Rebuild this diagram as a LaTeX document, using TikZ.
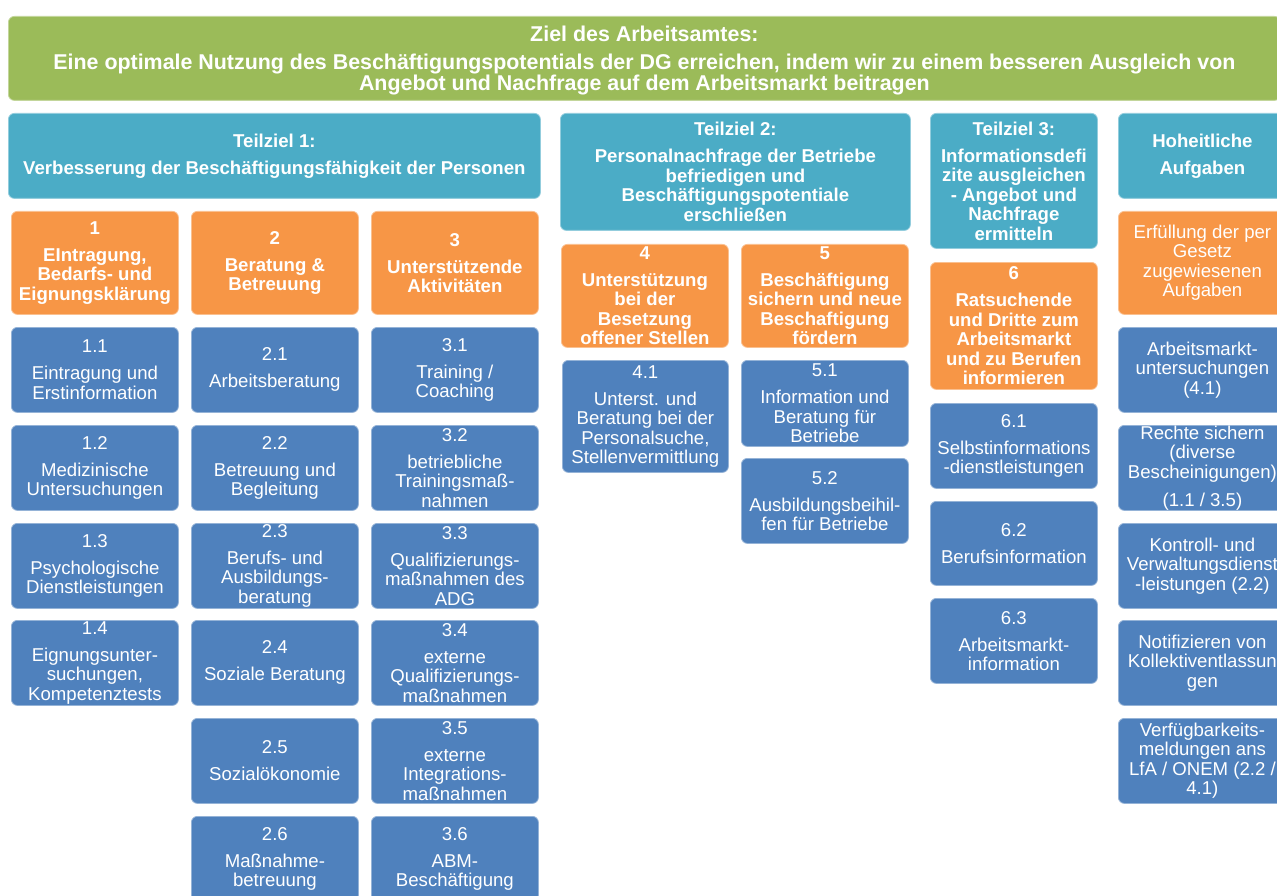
\documentclass[tikz,border=0pt]{standalone}
\usepackage{fontspec}
\setmainfont{Liberation Sans}
\definecolor{cgreen}{HTML}{9BBB59}
\definecolor{cteal}{HTML}{4BACC6}
\definecolor{corange}{HTML}{F79646}
\definecolor{cblue}{HTML}{4F81BD}
\tikzset{
  box/.style={fill=#1, draw=#1!60!white, line width=0.8pt, rounded corners=6pt,
    inner sep=0pt, anchor=north west},
  txt/.style={align=center, text=white, inner sep=0pt,
    font=\fontsize{18.6}{19.5}\selectfont},
  btxt/.style={txt, font=\fontsize{18.6}{19.5}\selectfont\bfseries},
  ttxt/.style={txt, font=\fontsize{21.4}{20.5}\selectfont\bfseries, yshift=-2pt},
}
\newcommand\bx[8]{%
  \node[box=#2, minimum width=#5pt, minimum height=#6pt] (#1) at (#3,#4) {};
  \node[#7] (#1-t) at (#1.center) {#8};}
\begin{document}
\begin{tikzpicture}[x=1pt,y=-1pt]
\useasboundingbox (0,0) rectangle (1277,896);
\fill[white] (0,0) rectangle (1277,896);
\clip (0,0) rectangle (1277,896);
% title
\bx{ziel}{cgreen}{8}{16}{1272}{84}{ttxt}{Ziel des Arbeitsamtes:\\[7.5pt]Eine optimale Nutzung des Besch\"aftigungspotentials der DG erreichen, indem wir zu einem besseren Ausgleich von\\Angebot und Nachfrage auf dem Arbeitsmarkt beitragen}
% Teilziele
\bx{t1}{cteal}{8}{113}{532}{85}{btxt}{Teilziel 1:\\[7.5pt]Verbesserung der Besch\"aftigungsf\"ahigkeit der Personen}
\bx{t2}{cteal}{560}{113}{350}{117}{btxt}{Teilziel 2:\\[7.5pt]Personalnachfrage der Betriebe\\befriedigen und\\Besch\"aftigungspotentiale\\erschlie\ss en}
\bx{t3}{cteal}{930}{113}{167}{135}{btxt}{Teilziel 3:\\[7.5pt]Informationsdefi\\zite ausgleichen\\- Angebot und\\Nachfrage\\ermitteln}
\bx{ho}{cteal}{1118}{113}{168}{85}{btxt}{Hoheitliche\\[7.5pt]Aufgaben}
% orange
\bx{o1}{corange}{11}{211}{167}{103}{btxt}{1\\[7.5pt]EIntragung,\\Bedarfs- und\\Eignungskl\"arung}
\bx{o2}{corange}{191}{211}{167}{103}{btxt}{2\\[7.5pt]Beratung \&\\Betreuung}
\bx{o3}{corange}{371}{211}{167}{103}{btxt}{3\\[7.5pt]Unterst\"utzende\\Aktivit\"aten}
\bx{o4}{corange}{561}{244}{167}{103}{btxt}{4\\[7.5pt]Unterst\"utzung\\bei der\\Besetzung\\offener Stellen}
\bx{o5}{corange}{741}{244}{167}{103}{btxt}{5\\[7.5pt]Besch\"aftigung\\sichern und neue\\Beschaftigung\\f\"ordern}
\bx{o6}{corange}{930}{262}{167}{127}{btxt}{6\\[7.5pt]Ratsuchende\\und Dritte zum\\Arbeitsmarkt\\und zu Berufen\\informieren}
\bx{o7}{corange}{1118}{211}{168}{103}{txt}{Erf\"ullung der per\\Gesetz\\zugewiesenen\\Aufgaben}
% column 1
\bx{b11}{cblue}{11}{327}{167}{85}{txt}{1.1\\[7.5pt]Eintragung und\\Erstinformation}
\bx{b12}{cblue}{11}{425}{167}{85}{txt}{1.2\\[7.5pt]Medizinische\\Untersuchungen}
\bx{b13}{cblue}{11}{523}{167}{85}{txt}{1.3\\[7.5pt]Psychologische\\Dienstleistungen}
\bx{b14}{cblue}{11}{620}{167}{85}{txt}{1.4\\[7.5pt]Eignungsunter-\\suchungen,\\Kompetenztests}
% column 2
\bx{b21}{cblue}{191}{327}{167}{85}{txt}{2.1\\[7.5pt]Arbeitsberatung}
\bx{b22}{cblue}{191}{425}{167}{85}{txt}{2.2\\[7.5pt]Betreuung und\\Begleitung}
\bx{b23}{cblue}{191}{523}{167}{85}{txt}{2.3\\[7.5pt]Berufs- und\\Ausbildungs-\\beratung}
\bx{b24}{cblue}{191}{620}{167}{85}{txt}{2.4\\[7.5pt]Soziale Beratung}
\bx{b25}{cblue}{191}{718}{167}{85}{txt}{2.5\\[7.5pt]Sozial\"okonomie}
\bx{b26}{cblue}{191}{816}{167}{85}{txt}{2.6\\[7.5pt]Ma\ss nahme-\\betreuung}
% column 3
\bx{b31}{cblue}{371}{327}{167}{85}{txt}{3.1\\[7.5pt]Training /\\Coaching}
\bx{b32}{cblue}{371}{425}{167}{85}{txt}{3.2\\[7.5pt]betriebliche\\Trainingsma\ss-\\nahmen}
\bx{b33}{cblue}{371}{523}{167}{85}{txt}{3.3\\[7.5pt]Qualifizierungs-\\ma\ss nahmen des\\ADG}
\bx{b34}{cblue}{371}{620}{167}{85}{txt}{3.4\\[7.5pt]externe\\Qualifizierungs-\\ma\ss nahmen}
\bx{b35}{cblue}{371}{718}{167}{85}{txt}{3.5\\[7.5pt]externe\\Integrations-\\ma\ss nahmen}
\bx{b36}{cblue}{371}{816}{167}{85}{txt}{3.6\\[7.5pt]ABM-\\Besch\"aftigung}
% column 4, 5
\bx{b41}{cblue}{562}{360}{166}{112}{txt}{4.1\\[7.5pt]Unterst. und\\Beratung bei der\\Personalsuche,\\Stellenvermittlung}
\bx{b51}{cblue}{741}{360}{167}{86}{txt}{5.1\\[7.5pt]Information und\\Beratung f\"ur\\Betriebe}
\bx{b52}{cblue}{741}{458}{167}{85}{txt}{5.2\\[7.5pt]Ausbildungsbeihil-\\fen f\"ur Betriebe}
% column 6
\bx{b61}{cblue}{930}{403}{167}{85}{txt}{6.1\\[7.5pt]Selbstinformations\\-dienstleistungen}
\bx{b62}{cblue}{930}{501}{167}{84}{txt}{6.2\\[7.5pt]Berufsinformation}
\bx{b63}{cblue}{930}{598}{167}{85}{txt}{6.3\\[7.5pt]Arbeitsmarkt-\\information}
% column 7
\bx{h1}{cblue}{1118}{327}{168}{85}{txt}{Arbeitsmarkt-\\untersuchungen\\(4.1)}
\bx{h2}{cblue}{1118}{425}{168}{85}{txt}{Rechte sichern\\(diverse\\Bescheinigungen)\\[8.5pt](1.1 / 3.5)}
\bx{h3}{cblue}{1118}{523}{168}{85}{txt}{Kontroll- und\\Verwaltungsdienst\\-leistungen (2.2)}
\bx{h4}{cblue}{1118}{620}{168}{85}{txt}{Notifizieren von\\Kollektiventlassun\\gen}
\bx{h5}{cblue}{1118}{718}{168}{85}{txt}{Verf\"ugbarkeits-\\meldungen ans\\LfA / ONEM (2.2 /\\4.1)}
\end{tikzpicture}
\end{document}
